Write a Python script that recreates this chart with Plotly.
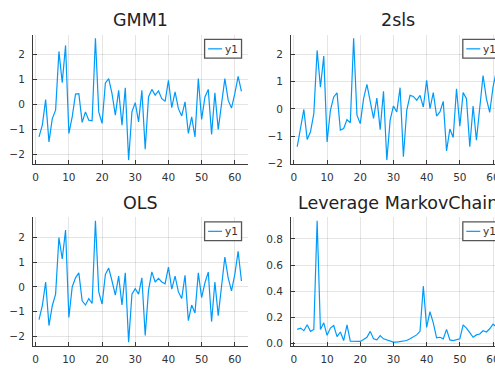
import plotly.graph_objects as go

# observation index
obs = list(range(1, 63))

# residual series per estimator
gmm1 = [-1.30, -0.83, 0.19, -1.50, -0.57, -0.23, 2.12, 0.87, 2.36, -1.16,
        -0.50, 0.41, 0.43, -0.72, -0.30, -0.63, -0.66, 2.65, -0.30, -0.76,
        0.86, 1.03, 0.43, -0.43, 0.56, -0.83, 0.66, -2.23, -0.30, 0.07,
        -0.70, 0.56, -1.79, 0.30, 0.60, 0.37, 0.54, 0.23, 0.12, 0.96,
        -0.13, 0.50, -0.17, -0.46, 0.10, -1.16, -0.50, -1.30, 1.03, -0.60,
        0.30, 0.60, -1.20, 0.46, -1.00, 0.10, 1.03, 0.17, -0.15, 0.43,
        1.12, 0.52]

tsls = [-1.39, -0.72, -0.02, -1.12, -0.84, -0.17, 2.15, 0.80, 1.94, -1.21,
        -0.05, 0.44, 0.59, -0.78, -0.72, -0.39, -0.51, 2.60, -0.23, -0.54,
        0.38, 0.90, 0.32, -0.35, 0.40, -0.76, 0.65, -1.88, -0.41, 0.11,
        -0.11, 0.78, -1.76, -0.05, 0.50, 0.46, 0.32, 0.50, 0.07, 1.05,
        0.01, 0.60, -0.26, -0.11, 0.28, -1.54, -0.74, -1.05, 0.74, -0.63,
        0.60, 0.38, -1.39, 0.11, -1.15, 0.13, 1.23, 0.38, -0.13, 0.80,
        1.40, 0.40]

ols = [-1.32, -0.76, 0.20, -1.56, -0.76, -0.29, 2.00, 1.13, 2.30, -1.23,
       0.00, 0.37, 0.57, -0.56, -0.73, -0.47, -0.67, 2.68, -0.20, -0.69,
       0.51, 0.76, 0.24, -0.33, 0.44, -0.73, 0.57, -2.23, -0.29, -0.07,
       -0.29, 0.37, -1.96, -0.13, 0.61, 0.20, 0.35, 0.20, 0.13, 0.80,
       -0.09, 0.44, -0.20, -0.47, 0.47, -1.36, -0.73, -1.05, 0.57, -0.43,
       0.17, 0.60, -1.40, 0.20, -1.16, 0.04, 1.21, 0.37, -0.16, 0.51,
       1.44, 0.24]

leverage = [0.110, 0.120, 0.100, 0.145, 0.095, 0.110, 0.940, 0.110, 0.160, 0.065,
            0.120, 0.140, 0.055, 0.090, 0.025, 0.145, 0.020, 0.018, 0.018, 0.018,
            0.033, 0.050, 0.095, 0.038, 0.030, 0.063, 0.038, 0.030, 0.025, 0.013,
            0.013, 0.018, 0.020, 0.025, 0.038, 0.050, 0.068, 0.095, 0.440, 0.125,
            0.245, 0.160, 0.045, 0.050, 0.038, 0.110, 0.030, 0.025, 0.030, 0.038,
            0.145, 0.120, 0.085, 0.050, 0.068, 0.075, 0.100, 0.090, 0.115, 0.150,
            0.130, 0.160]

titles = ["GMM1", "2sls", "OLS", "Leverage MarkovChain"]
series = [gmm1, tsls, ols, leverage]
legend_label = "y1"
x_ticks = [0, 10, 20, 30, 40, 50, 60]

W, H = 520, 369
LINE_COLOR = "#009AFA"
AXIS_COLOR = "#3a3a3a"
TEXT_COLOR = "#333333"
FONT = "DejaVu Sans"

# plot-area boxes in pixels: left, right, top, bottom
boxes = [
    (32.0, 247.0, 35.0, 166.0),
    (290.7, 505.7, 35.0, 166.0),
    (32.0, 247.0, 220.0, 350.5),
    (290.7, 505.7, 220.0, 350.5),
]


def fx(p):
    return p / W


def fy(p):
    return 1 - p / H


def padded(lo, hi, frac=0.03):
    span = hi - lo
    return [lo - frac * span, hi + frac * span]


fig = go.Figure()
layout = dict(
    width=W, height=H,
    margin=dict(l=0, r=0, t=0, b=0),
    paper_bgcolor="white", plot_bgcolor="white",
    showlegend=False,
    font=dict(family=FONT, color=TEXT_COLOR),
)
shapes = []
annotations = []

for i, (title, ys, (l, r, t, b)) in enumerate(zip(titles, series, boxes)):
    n = "" if i == 0 else str(i + 1)
    fig.add_trace(go.Scatter(
        x=obs, y=ys, mode="lines", name=legend_label,
        line=dict(color=LINE_COLOR, width=1.2),
        xaxis="x" + n, yaxis="y" + n,
    ))
    common = dict(
        showline=True, linecolor=AXIS_COLOR, linewidth=1,
        ticks="inside", ticklen=4, tickwidth=1, tickcolor=AXIS_COLOR,
        showgrid=True, gridcolor="rgba(0,0,0,0.1)", gridwidth=1,
        zeroline=False, mirror=False,
        tickfont=dict(family=FONT, size=10.5, color=TEXT_COLOR),
    )
    layout["xaxis" + n] = dict(
        common, domain=[fx(l), fx(r)], anchor="y" + n,
        range=padded(min(obs), max(obs)), tickvals=x_ticks,
        ticklabelstandoff=4,
    )
    yax = dict(
        common, domain=[fy(b), fy(t)], anchor="x" + n,
        range=padded(min(ys), max(ys)), ticklabelstandoff=5,
    )
    if title.startswith("Leverage"):
        yax.update(dtick=0.2, tick0=0, tickformat=".1f")
    else:
        yax.update(dtick=1, tick0=0)
    layout["yaxis" + n] = yax

    # subplot title
    annotations.append(dict(
        text=title, showarrow=False, xref="paper", yref="paper",
        x=fx((l + r) / 2), y=fy(t - 14.5), xanchor="center", yanchor="middle",
        font=dict(family=FONT, size=17.5, color="#222222"),
    ))

    # legend box in the top-right corner of each subplot
    bw, bh = 37.0, 19.0
    br_ = r - 6.0
    bl_ = br_ - bw
    bt_ = t + 5.0
    bb_ = bt_ + bh
    cy = (bt_ + bb_) / 2
    shapes.append(dict(
        type="rect", xref="paper", yref="paper",
        x0=fx(bl_), x1=fx(br_), y0=fy(bb_), y1=fy(bt_),
        line=dict(color="#555555", width=1.3), fillcolor="white", layer="above",
    ))
    shapes.append(dict(
        type="line", xref="paper", yref="paper",
        x0=fx(bl_ + 3.5), x1=fx(bl_ + 17.5), y0=fy(cy), y1=fy(cy),
        line=dict(color=LINE_COLOR, width=1.2), layer="above",
    ))
    annotations.append(dict(
        text=legend_label, showarrow=False, xref="paper", yref="paper",
        x=fx(bl_ + 18.0), y=fy(cy), xanchor="left", yanchor="middle",
        font=dict(family=FONT, size=10.5, color=TEXT_COLOR),
    ))

layout["shapes"] = shapes
layout["annotations"] = annotations
fig.update_layout(**layout)

fig.write_html(
    "out.html",
    config={"displayModeBar": False},
    post_script=(
        "document.body.style.margin='0';"
        "document.body.style.overflow='hidden';"
        "document.documentElement.style.overflow='hidden';"
    ),
)
